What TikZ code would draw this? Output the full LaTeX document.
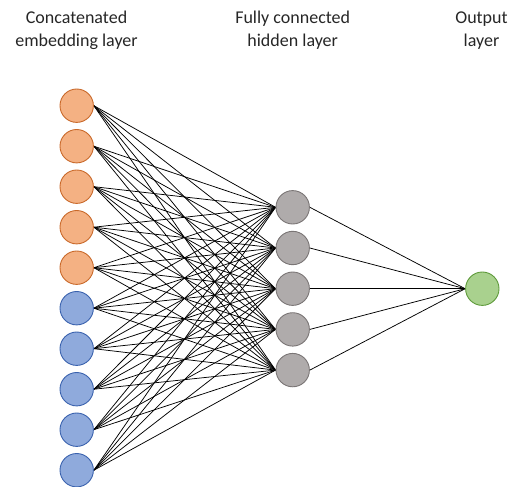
\documentclass[tikz,border=0pt]{standalone}
\usepackage{fontspec}
\setmainfont{Carlito}
\usetikzlibrary{backgrounds}
\definecolor{embfill}{HTML}{F4B183}
\definecolor{embdraw}{HTML}{C9692A}
\definecolor{catfill}{HTML}{8FAADC}
\definecolor{catdraw}{HTML}{3A62AE}
\definecolor{hidfill}{HTML}{AFABAB}
\definecolor{hiddraw}{HTML}{7A7575}
\definecolor{outfill}{HTML}{A9D18E}
\definecolor{outdraw}{HTML}{5E9A3A}
\tikzset{
  neuron/.style={circle, minimum size=33.4pt, inner sep=0pt, line width=0.9pt},
  embnode/.style={neuron, fill=embfill, draw=embdraw},
  catnode/.style={neuron, fill=catfill, draw=catdraw},
  hidnode/.style={neuron, fill=hidfill, draw=hiddraw},
  outnode/.style={neuron, fill=outfill, draw=outdraw},
  link/.style={line width=0.75pt, black},
  title/.style={anchor=base, inner sep=0pt, font=\fontsize{18}{22.5}\selectfont, text=black!85}
}
\begin{document}
\begin{tikzpicture}[x=1pt, y=-1pt]
  \useasboundingbox (0,0) rectangle (510,486);

  % column headings
  \node[title] (h1a) at (76.5,24) {Concatenated};
  \node[title] (h1b) at (76.5,46.5) {embedding layer};
  \node[title] (h2a) at (292.7,24) {Fully connected};
  \node[title] (h2b) at (292.7,46.5) {hidden layer};
  \node[title] (h3a) at (481.5,24) {Output};
  \node[title] (h3b) at (481.5,46.5) {layer};

  % input layer: five embedding units, then five more
  \foreach \i in {1,...,5} {
    \node[embnode] (in\i) at (76.7,{105.7+(\i-1)*40.5}) {};
  }
  \foreach \i in {6,...,10} {
    \node[catnode] (in\i) at (76.7,{105.7+(\i-1)*40.5}) {};
  }

  % hidden layer
  \foreach \j in {1,...,5} {
    \node[hidnode] (hid\j) at (292.7,{207.3+(\j-1)*40.7}) {};
  }

  % output layer
  \node[outnode] (out) at (482.3,288.7) {};

  % full connections, kept behind the circles
  \begin{scope}[on background layer]
    \foreach \i in {1,...,10} {
      \foreach \j in {1,...,5} {
        \draw[link] (in\i.east) -- (hid\j.west);
      }
    }
    \foreach \j in {1,...,5} {
      \draw[link] (hid\j.east) -- (out.west);
    }
  \end{scope}
\end{tikzpicture}
\end{document}
